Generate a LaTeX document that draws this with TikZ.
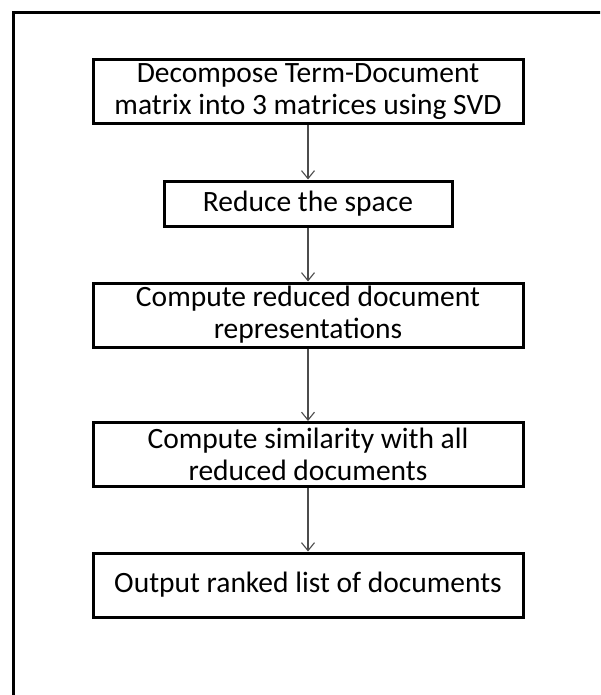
\documentclass[tikz,border=0pt]{standalone}
\usepackage{fontspec}
\setmainfont{Carlito}
\usetikzlibrary{arrows.meta}
\begin{document}
\begin{tikzpicture}[x=1pt,y=-1pt,
  stepbox/.style={draw=black, line width=3pt, inner sep=0pt, align=center,
    font=\fontsize{29.5}{32}\selectfont, minimum width=430pt, minimum height=64pt},
  flow/.style={draw=black!70, line width=1.1pt, -{Straight Barb[length=8pt,width=13pt,line width=1.1pt]}}]
\useasboundingbox (0,0) rectangle (600,695);
\clip (0,0) rectangle (600,695);
\fill[white] (0,0) rectangle (600,695);
\draw[line width=3pt] (13,720) -- (13,13) -- (640,13);
\node[stepbox] (a) at (308,92) {Decompose Term-Document\\matrix into 3 matrices using SVD};
\node[stepbox, minimum width=288pt, minimum height=45pt] (b) at (308,203.5) {Reduce the space};
\node[stepbox] (c) at (308,315) {Compute reduced document\\representations};
\node[stepbox] (d) at (308,454.5) {Compute similarity with all\\reduced documents};
\node[stepbox] (e) at (308,585) {Output ranked list of documents};
\draw[flow] (a) -- (b);
\draw[flow] (b) -- (c);
\draw[flow] (c) -- (d);
\draw[flow] (d) -- (e);
\end{tikzpicture}
\end{document}
